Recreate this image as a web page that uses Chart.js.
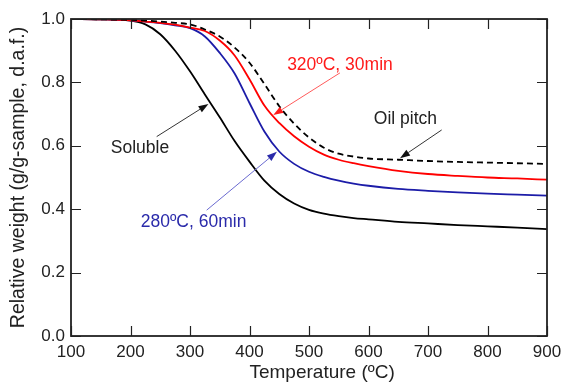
<!DOCTYPE html>
<html><head><meta charset="utf-8">
<script src="https://cdn.jsdelivr.net/npm/chart.js@4/dist/chart.umd.min.js"></script>
<style>html,body{margin:0;padding:0;background:#fff}#wrap{width:562px;height:382px}</style>
</head><body><div id="wrap"><canvas id="c" width="562" height="382"></canvas></div>
<script>
const temperatures = [100,150,200,225,250,275,300,325,350,375,400,425,450,475,500,525,550,575,600,650,700,750,800,850,900];
const soluble  = [1.0,0.999,0.995,0.983,0.952,0.9,0.835,0.762,0.69,0.615,0.55,0.49,0.448,0.418,0.398,0.386,0.378,0.372,0.368,0.36,0.355,0.35,0.346,0.342,0.337];
const t280_60  = [1.0,0.999,0.996,0.992,0.987,0.98,0.971,0.945,0.893,0.828,0.735,0.645,0.582,0.543,0.518,0.502,0.49,0.481,0.474,0.464,0.458,0.453,0.449,0.446,0.443];
const t320_30  = [1.0,0.999,0.996,0.992,0.988,0.982,0.973,0.962,0.932,0.885,0.81,0.727,0.672,0.63,0.597,0.572,0.556,0.545,0.536,0.521,0.511,0.505,0.5,0.497,0.493];
const oilPitch = [1.0,0.999,0.997,0.995,0.992,0.988,0.983,0.967,0.945,0.91,0.862,0.795,0.725,0.67,0.626,0.594,0.575,0.566,0.56,0.556,0.552,0.549,0.547,0.545,0.543];
const xTickValues = [100,200,300,400,500,600,700,800,900];
const yTickValues = [0.0,0.2,0.4,0.6,0.8,1.0];
const xTitle = 'Temperature (ºC)';
const yTitle = 'Relative weight (g/g-sample, d.a.f.)';

const FONT = "'Liberation Sans', Arial, sans-serif";
const pts = arr => temperatures.map((t,i)=>({x:t,y:arr[i]}));

// annotation labels (data coordinates)
const notes = [
  {text:'320ºC, 30min', color:'#ff1a1a', line:'#ff5a5a', tx:552, ty:0.855, from:[552,0.83], to:[440,0.697]},
  {text:'Oil pitch', color:'#222', line:'#333', tx:662, ty:0.685, from:[723,0.65], to:[653,0.561]},
  {text:'Soluble', color:'#222', line:'#333', tx:216, ty:0.594, from:[244,0.629], to:[331,0.732]},
  {text:'280ºC, 60min', color:'#2a2aaa', line:'#6a6ad0', tx:306, ty:0.358, from:[328,0.397], to:[446,0.581]}
];

const frame = {
  id:'frame',
  afterDatasetsDraw(chart){
    const {ctx, chartArea:a, scales:{x,y}} = chart;
    ctx.save();
    ctx.strokeStyle='#222'; ctx.lineWidth=1.2;
    ctx.beginPath();
    x.ticks.forEach(t=>{const p=Math.round(x.getPixelForValue(t.value))+0.5;
      ctx.moveTo(p,a.bottom); ctx.lineTo(p,a.bottom-10); ctx.moveTo(p,a.top); ctx.lineTo(p,a.top+10);});
    y.ticks.forEach(t=>{const p=Math.round(y.getPixelForValue(t.value))+0.5;
      ctx.moveTo(a.left,p); ctx.lineTo(a.left+10,p); ctx.moveTo(a.right,p); ctx.lineTo(a.right-10,p);});
    ctx.stroke();
    ctx.lineWidth=1.8;
    ctx.strokeRect(a.left, a.top, a.right-a.left, a.bottom-a.top);
    // x axis title
    ctx.fillStyle='#222'; ctx.font='19px '+FONT; ctx.textAlign='center'; ctx.textBaseline='middle';
    ctx.fillText(xTitle, x.getPixelForValue(522), 373);
    // annotations
    ctx.font = '17.5px '+FONT;
    notes.forEach(n=>{
      ctx.fillStyle=n.color;
      ctx.fillText(n.text, x.getPixelForValue(n.tx), y.getPixelForValue(n.ty));
      const x1=x.getPixelForValue(n.from[0]), y1=y.getPixelForValue(n.from[1]);
      const x2=x.getPixelForValue(n.to[0]), y2=y.getPixelForValue(n.to[1]);
      const ang=Math.atan2(y2-y1,x2-x1), L=10, W=3.5;
      const bx=x2-L*Math.cos(ang), by=y2-L*Math.sin(ang);
      ctx.strokeStyle=n.line; ctx.lineWidth=1;
      ctx.beginPath(); ctx.moveTo(x1,y1); ctx.lineTo(bx,by); ctx.stroke();
      ctx.fillStyle=n.color==='#222'?'#111':n.color;
      ctx.beginPath(); ctx.moveTo(x2,y2);
      ctx.lineTo(bx+W*Math.sin(ang), by-W*Math.cos(ang));
      ctx.lineTo(bx-W*Math.sin(ang), by+W*Math.cos(ang));
      ctx.closePath(); ctx.fill();
    });
    ctx.restore();
  }
};

new Chart(document.getElementById('c'), {
  type:'line',
  data:{datasets:[
    {label:'Oil pitch', data:pts(oilPitch), borderColor:'#000', borderWidth:1.8, borderDash:[6,4]},
    {label:'320ºC, 30min', data:pts(t320_30), borderColor:'#ff0000', borderWidth:1.8},
    {label:'280ºC, 60min', data:pts(t280_60), borderColor:'#1c1ca8', borderWidth:1.8},
    {label:'Soluble', data:pts(soluble), borderColor:'#000', borderWidth:1.8}
  ]},
  options:{
    responsive:false, animation:false, devicePixelRatio:1,
    layout:{padding:{left:0,top:19,right:15,bottom:0}},
    elements:{point:{radius:0}, line:{cubicInterpolationMode:'monotone', fill:false}},
    plugins:{legend:{display:false}, tooltip:{enabled:false}},
    scales:{
      x:{type:'linear', min:100, max:900,
        afterBuildTicks:s=>{s.ticks=xTickValues.map(v=>({value:v}));},
        afterFit:s=>{s.height=46; s.paddingLeft=0; s.paddingRight=0;},
        grid:{display:false, drawTicks:false}, border:{display:false},
        ticks:{padding:6, color:'#222', font:{family:FONT,size:17}, maxRotation:0},
        title:{display:false}
      },
      y:{min:0, max:1,
        afterBuildTicks:s=>{s.ticks=yTickValues.map(v=>({value:v}));},
        afterFit:s=>{s.width=71; s.paddingTop=0; s.paddingBottom=0;},
        grid:{display:false, drawTicks:false}, border:{display:false},
        ticks:{padding:6, color:'#222', font:{family:FONT,size:17}, callback:v=>Number(v).toFixed(1)},
        title:{display:true, text:yTitle, color:'#222', font:{family:FONT,size:19.5,lineHeight:1}, padding:{top:9,bottom:0}}
      }
    }
  },
  plugins:[frame]
});
</script></body></html>
